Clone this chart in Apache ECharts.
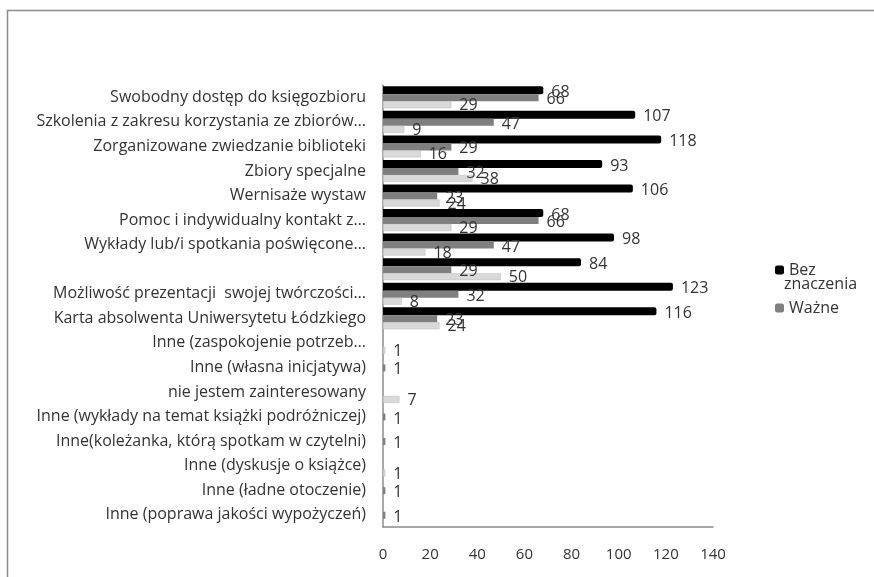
<!DOCTYPE html>
<html>
<head>
<meta charset="utf-8">
<script src="https://cdn.jsdelivr.net/npm/echarts@6/dist/echarts.min.js"></script>
<style>
  html, body { margin: 0; padding: 0; background: #fff; }
  #chart { width: 874px; height: 577px; }
</style>
</head>
<body>
<div id="chart"></div>
<script>
// kategorie od góry do dołu
var categories = [
  'Swobodny dostęp do księgozbioru',
  'Szkolenia z zakresu korzystania ze zbiorów…',
  'Zorganizowane zwiedzanie biblioteki',
  'Zbiory specjalne',
  'Wernisaże wystaw',
  'Pomoc i indywidualny kontakt z…',
  'Wykłady lub/i spotkania poświęcone…',
  '',
  'Możliwość prezentacji  swojej twórczości…',
  'Karta absolwenta Uniwersytetu Łódzkiego',
  'Inne (zaspokojenie potrzeb…',
  'Inne (własna inicjatywa)',
  'nie jestem zainteresowany',
  'Inne (wykłady na temat książki podróżniczej)',
  'Inne(koleżanka, którą spotkam w czytelni)',
  'Inne (dyskusje o książce)',
  'Inne (ładne otoczenie)',
  'Inne (poprawa jakości wypożyczeń)'
];
var bezZnaczenia = [68, 107, 118, 93, 106, 68, 98, 84, 123, 116, null, null, null, null, null, null, null, null];
var wazne        = [66, 47, 29, 32, 23, 66, 47, 29, 32, 23, null, 1, null, 1, 1, null, 1, 1];
var trzecia      = [29, 9, 16, 38, 24, 29, 18, 50, 8, 24, 1, null, 7, null, null, 1, null, null];
var xTicks = [0, 20, 40, 60, 80, 100, 120, 140];

var font = '"Open Sans", Lato, sans-serif';

var myChart = echarts.init(document.getElementById('chart'));

function labelCfg(size, dy) {
  return {
    show: true,
    position: 'right',
    distance: 8,
    offset: [0, dy],
    color: '#333',
    fontFamily: font,
    fontSize: size
  };
}

var option = {
  animation: false,
  backgroundColor: '#fff',
  graphic: [
    {
      type: 'rect',
      shape: { x: 7.5, y: 10.5, width: 900, height: 600 },
      style: { fill: 'none', stroke: '#8c8c8c', lineWidth: 1.5 }
    },
    {
      // druga linia nazwy serii w legendzie
      type: 'text',
      x: 784,
      y: 284,
      style: {
        text: 'znaczenia',
        fill: '#333',
        font: '16px "Open Sans", Lato, sans-serif',
        verticalAlign: 'middle'
      }
    }
  ],
  legend: {
    orient: 'vertical',
    left: 770,
    top: 256,
    itemWidth: 9,
    itemHeight: 9,
    itemGap: 20,
    data: ['Bez znaczenia', 'Ważne'],
    formatter: function (name) {
      return name === 'Bez znaczenia' ? 'Bez' : name;
    },
    textStyle: { fontFamily: font, fontSize: 16, lineHeight: 18, color: '#333' }
  },
  grid: { left: 383, right: 161, top: 85, bottom: 50 },
  xAxis: {
    type: 'value',
    min: 0,
    max: 140,
    interval: 20,
    splitLine: { show: false },
    axisLine: { show: true, lineStyle: { color: '#8c8c8c', width: 1.5 } },
    axisTick: { show: false },
    axisLabel: {
      margin: 20,
      color: '#333',
      fontFamily: font,
      fontSize: 15,
      formatter: function (v) { return xTicks.indexOf(v) >= 0 ? String(v) : ''; }
    }
  },
  yAxis: {
    type: 'category',
    inverse: true,
    data: categories,
    axisLine: { show: true, lineStyle: { color: '#8c8c8c', width: 1.5 } },
    axisTick: { show: false },
    axisLabel: {
      margin: 17,
      color: '#333',
      fontFamily: font,
      fontSize: 16
    }
  },
  series: [
    {
      name: 'Bez znaczenia',
      type: 'bar',
      data: bezZnaczenia,
      barWidth: 8,
      barGap: '0%',
      itemStyle: { color: '#000', borderRadius: [0, 2, 2, 0] },
      label: labelCfg(16, 2)
    },
    {
      name: 'Ważne',
      type: 'bar',
      data: wazne,
      barWidth: 7,
      itemStyle: { color: '#7f7f7f' },
      label: labelCfg(16, 2)
    },
    {
      name: 'Inne odpowiedzi',
      type: 'bar',
      data: trzecia,
      barWidth: 7,
      itemStyle: { color: '#d9d9d9', borderColor: '#bdbdbd', borderWidth: 0.5 },
      label: labelCfg(16, 1)
    }
  ]
};

option && myChart.setOption(option);
</script>
</body>
</html>
